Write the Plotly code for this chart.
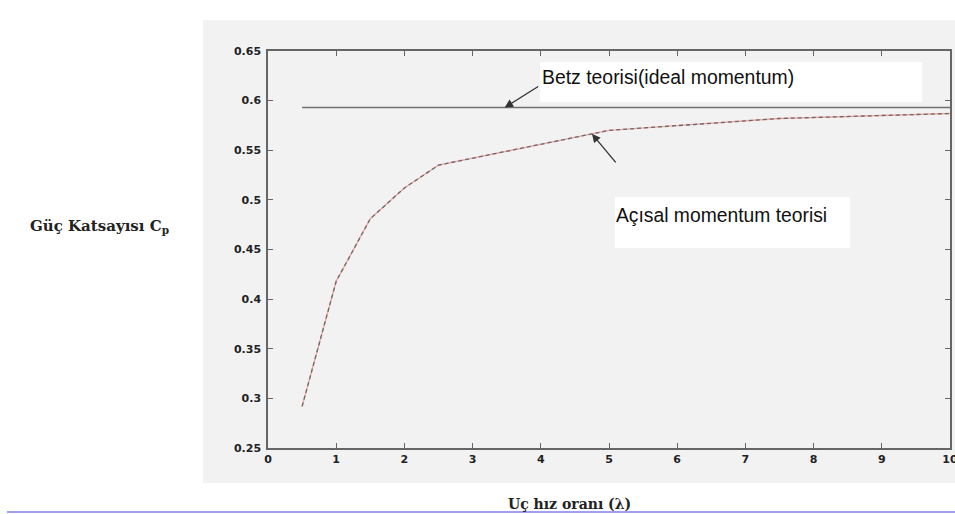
import numpy as np
import plotly.graph_objects as go

# Tip speed ratio and maximum power coefficient from angular momentum theory
tsr = [0.5, 1.0, 1.5, 2.0, 2.5, 5.0, 7.5, 10.0]
cp_angular = [0.292, 0.418, 0.481, 0.512, 0.535, 0.570, 0.582, 0.587]

# Betz limit (ideal momentum theory)
betz_x = [0.5, 10.0]
betz_cp = [0.593, 0.593]

x_ticks = [0, 1, 2, 3, 4, 5, 6, 7, 8, 9, 10]
y_ticks = [0.25, 0.3, 0.35, 0.4, 0.45, 0.5, 0.55, 0.6, 0.65]
y_tick_text = ["0.25", "0.3", "0.35", "0.4", "0.45", "0.5", "0.55", "0.6", "0.65"]

W, H = 955, 514
L, R, T, B = 268, 5, 51, 66
PW, PH = W - L - R, H - T - B


def px(x):
    return (x - L) / PW


def py(y):
    return (H - B - y) / PH


fig = go.Figure()

# Angular momentum curve: pale red line under a grey dashed line
fig.add_trace(go.Scatter(x=tsr, y=cp_angular, mode="lines",
                         line=dict(color="rgba(240,140,140,0.75)", width=1.4),
                         hoverinfo="skip", showlegend=False))
fig.add_trace(go.Scatter(x=tsr, y=cp_angular, mode="lines",
                         line=dict(color="#6a6a6a", width=1.3, dash="4px,3px"),
                         showlegend=False))
fig.add_trace(go.Scatter(x=betz_x, y=betz_cp, mode="lines",
                         line=dict(color="#707070", width=1.5),
                         showlegend=False))

shapes = [
    # grey figure panel
    dict(type="rect", xref="paper", yref="paper", layer="below",
         x0=px(203), x1=px(960), y0=py(483), y1=py(20),
         fillcolor="#f2f2f2", line=dict(width=0)),
    # white text boxes
    dict(type="rect", xref="paper", yref="paper",
         x0=px(540), x1=px(922), y0=py(102), y1=py(62),
         fillcolor="white", line=dict(width=0)),
    dict(type="rect", xref="paper", yref="paper",
         x0=px(615), x1=px(850), y0=py(248), y1=py(197),
         fillcolor="white", line=dict(width=0)),
    # thin rule under the figure
    dict(type="line", xref="paper", yref="paper",
         x0=px(7), x1=px(960), y0=py(512), y1=py(512),
         line=dict(color="#a0a0f4", width=2)),
]

betz_arrow_x = 3.47
ang_arrow_x = 4.75
annotations = [
    dict(x=betz_arrow_x, y=betz_cp[0], xref="x", yref="y", text="",
         showarrow=True, ax=35, ay=-22, arrowhead=2, arrowsize=1.3,
         arrowwidth=1.3, arrowcolor="#333333", standoff=0),
    dict(x=ang_arrow_x, y=float(np.interp(ang_arrow_x, tsr, cp_angular)),
         xref="x", yref="y", text="",
         showarrow=True, ax=25, ay=30, arrowhead=2, arrowsize=1.3,
         arrowwidth=1.3, arrowcolor="#333333", standoff=0),
    dict(x=px(540), y=py(76.5), xref="paper", yref="paper",
         text="Betz teorisi(ideal momentum)", showarrow=False,
         xanchor="left", yanchor="middle",
         font=dict(family="Liberation Sans, Arial", size=19.4, color="#111111")),
    dict(x=px(614), y=py(215), xref="paper", yref="paper",
         text="Açısal momentum teorisi", showarrow=False,
         xanchor="left", yanchor="middle",
         font=dict(family="Liberation Sans, Arial", size=19.3, color="#111111")),
    dict(x=px(99), y=py(226), xref="paper", yref="paper",
         text="Güç Katsayısı C<sub>p</sub>", showarrow=False,
         xanchor="center", yanchor="middle",
         font=dict(family="DejaVu Serif", size=15, color="#222222", weight="bold")),
    dict(x=px(569), y=py(504), xref="paper", yref="paper",
         text="Uç hız oranı (λ)", showarrow=False,
         xanchor="center", yanchor="middle",
         font=dict(family="DejaVu Serif", size=14, color="#222222", weight="bold")),
]

axis_common = dict(showgrid=False, zeroline=False, showline=True,
                   linecolor="#666666", linewidth=1.5, mirror="ticks",
                   ticks="inside", ticklen=5, tickwidth=1, tickcolor="#666666",
                   ticklabeloverflow="allow", automargin=False,
                   tickfont=dict(family="DejaVu Sans", size=11,
                                 color="#222222", weight="bold"))

fig.update_xaxes(range=[0, 10], tickvals=x_ticks, ticklabelstandoff=0, **axis_common)
fig.update_yaxes(range=[0.25, 0.65], tickvals=y_ticks, ticktext=y_tick_text,
                 ticklabelstandoff=3, **axis_common)

fig.update_layout(width=W, height=H, margin=dict(l=L, r=R, t=T, b=B),
                  paper_bgcolor="white", plot_bgcolor="#f2f2f2",
                  shapes=shapes, annotations=annotations, showlegend=False)

fig.write_html("out.html")
